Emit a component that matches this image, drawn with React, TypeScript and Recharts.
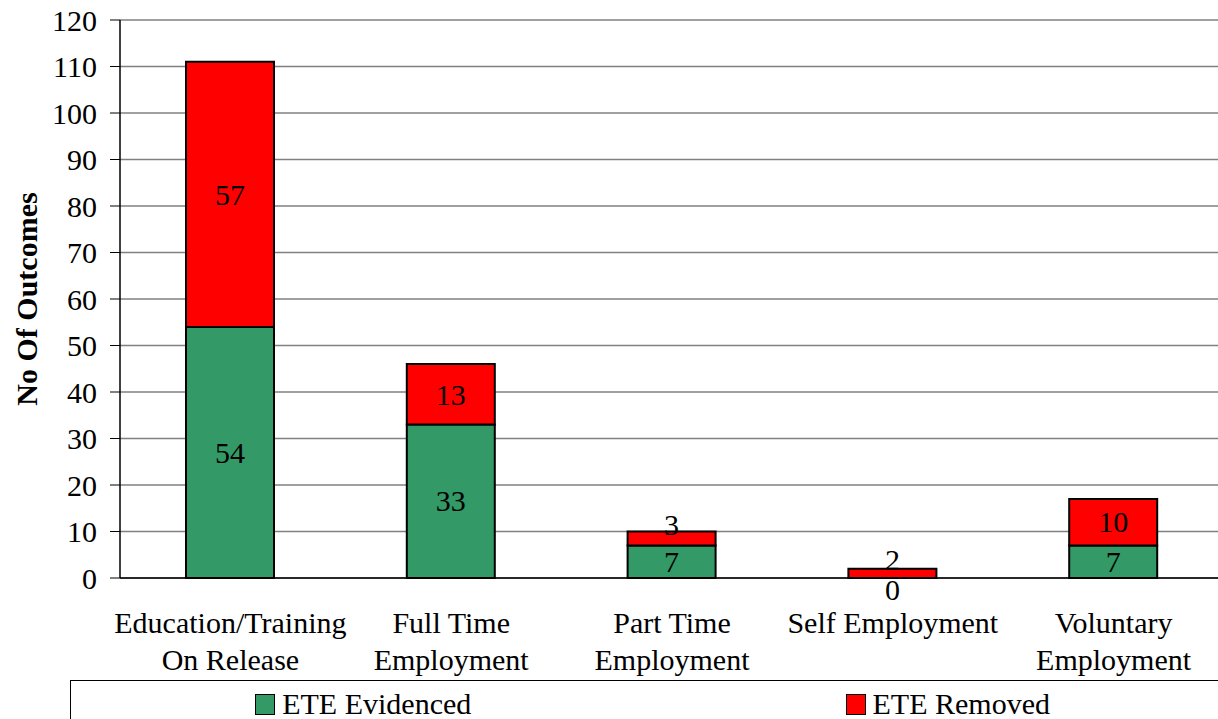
import { Bar, BarChart, CartesianGrid, LabelList, Legend, XAxis, YAxis } from "recharts"

const FONT = '"Liberation Serif", "Times New Roman", serif'

// Chart values
const categories = [
  "Education/Training\nOn Release",
  "Full Time\nEmployment",
  "Part Time\nEmployment",
  "Self Employment",
  "Voluntary\nEmployment",
]
const evidenced = [54, 33, 7, 0, 7]
const removed = [57, 13, 3, 2, 10]
const yTicks = [0, 10, 20, 30, 40, 50, 60, 70, 80, 90, 100, 110, 120]
const edgeTicks = [0, 1, 2, 3, 4, 5]

const data = categories.map((name, i) => ({
  name,
  evidenced: evidenced[i],
  removed: removed[i],
}))

const CategoryTick = (props: any) => {
  const { x, y, payload } = props
  const lines = String(payload.value).split("\n")
  return (
    <text x={x} y={y} textAnchor="middle" fontSize={30} fontFamily={FONT} fill="#000">
      {lines.map((line, i) => (
        <tspan key={i} x={x} dy={i === 0 ? 55 : 37}>
          {line}
        </tspan>
      ))}
    </text>
  )
}

const valueText = (cx: number, cy: number, value: any, key?: string) => (
  <text key={key} x={cx} y={cy} dy="0.34em" textAnchor="middle" fontSize={30} fontFamily={FONT} fill="#000">
    {value}
  </text>
)

// small segments push their label away, like Excel does
const bottomLabel = (props: any) => {
  const { x, y, width, height, value } = props
  const h = Math.abs(Number(height))
  const dy = h < 20 ? 12 : 0
  return valueText(Number(x) + Number(width) / 2, Number(y) + Number(height) / 2 + dy, value)
}

const topLabel = (props: any) => {
  const { x, y, width, height, value, index } = props
  const h = Math.abs(Number(height))
  const cx = Number(x) + Number(width) / 2
  const dy = h < 20 ? -14 : 0
  const own = valueText(cx, Number(y) + Number(height) / 2 + dy, value, "own")
  // a zero-height segment below gets no rectangle of its own, so print its value here
  if (evidenced[index] === 0) {
    return (
      <g>
        {own}
        {valueText(cx, Number(y) + Number(height) + 12, evidenced[index], "base")}
      </g>
    )
  }
  return own
}

const YLabel = (props: any) => {
  const { viewBox } = props
  const cx = viewBox.x + 37
  const cy = viewBox.y + viewBox.height / 2
  return (
    <text
      x={cx}
      y={cy}
      transform={`rotate(-90, ${cx}, ${cy})`}
      textAnchor="middle"
      fontSize={30}
      fontWeight="bold"
      fontFamily={FONT}
      fill="#000"
    >
      No Of Outcomes
    </text>
  )
}

const renderLegend = (props: any) => {
  const { payload } = props
  return (
    <div
      style={{
        border: "1px solid #000",
        borderRight: "none",
        borderBottom: "none",
        height: "100%",
        boxSizing: "border-box",
        display: "flex",
        paddingTop: 8,
        fontFamily: FONT,
        fontSize: 30,
        lineHeight: "30px",
      }}
    >
      {(payload || []).map((entry: any) => (
        <div key={entry.value} style={{ flex: 1, display: "flex", justifyContent: "center", alignItems: "center", height: 30 }}>
          <span
            style={{
              display: "inline-block",
              width: 18,
              height: 19,
              background: entry.color,
              border: "1px solid #000",
              marginRight: 7,
            }}
          />
          <span style={{ color: "#000" }}>{entry.value}</span>
        </div>
      ))}
    </div>
  )
}

export default function App() {
  return (
    <div style={{ position: "absolute", left: 0, top: 0, width: 1218, height: 719, overflow: "hidden", background: "#fff" }}>
      <BarChart width={1240} height={740} data={data} margin={{ top: 20, right: 16, bottom: 0, left: 0 }}>
        <CartesianGrid xAxisId="cat" vertical={false} stroke="#808080" strokeWidth={1.5} />
        <XAxis
          xAxisId="edge"
          type="number"
          domain={[0, 5]}
          ticks={edgeTicks}
          interval={0}
          tick={false}
          tickSize={9}
          tickLine={{ stroke: "#000" }}
          axisLine={false}
          height={0}
        />
        <XAxis
          xAxisId="cat"
          dataKey="name"
          height={162}
          interval={0}
          tickSize={0}
          tickMargin={0}
          tickLine={false}
          axisLine={{ stroke: "#000", strokeWidth: 1.5 }}
          tick={<CategoryTick />}
        />
        <YAxis
          width={120}
          domain={[0, 120]}
          ticks={yTicks}
          interval={0}
          tickSize={10}
          tickMargin={13}
          tick={{ fontSize: 30, fill: "#000", fontFamily: FONT }}
          tickLine={{ stroke: "#000" }}
          axisLine={{ stroke: "#000", strokeWidth: 1.5 }}
          label={<YLabel />}
        />
        <Legend
          layout="horizontal"
          verticalAlign="middle"
          align="center"
          wrapperStyle={{ left: 70, top: 680, width: 1170, height: 60 }}
          content={renderLegend}
        />
        <Bar
          xAxisId="cat"
          dataKey="evidenced"
          name="ETE Evidenced"
          stackId="ete"
          fill="#339966"
          stroke="#000"
          strokeWidth={2}
          barSize={88}
          isAnimationActive={false}
        >
          <LabelList dataKey="evidenced" content={bottomLabel} />
        </Bar>
        <Bar
          xAxisId="cat"
          dataKey="removed"
          name="ETE Removed"
          stackId="ete"
          fill="#FF0000"
          stroke="#000"
          strokeWidth={2}
          barSize={88}
          isAnimationActive={false}
        >
          <LabelList dataKey="removed" content={topLabel} />
        </Bar>
      </BarChart>
    </div>
  )
}
